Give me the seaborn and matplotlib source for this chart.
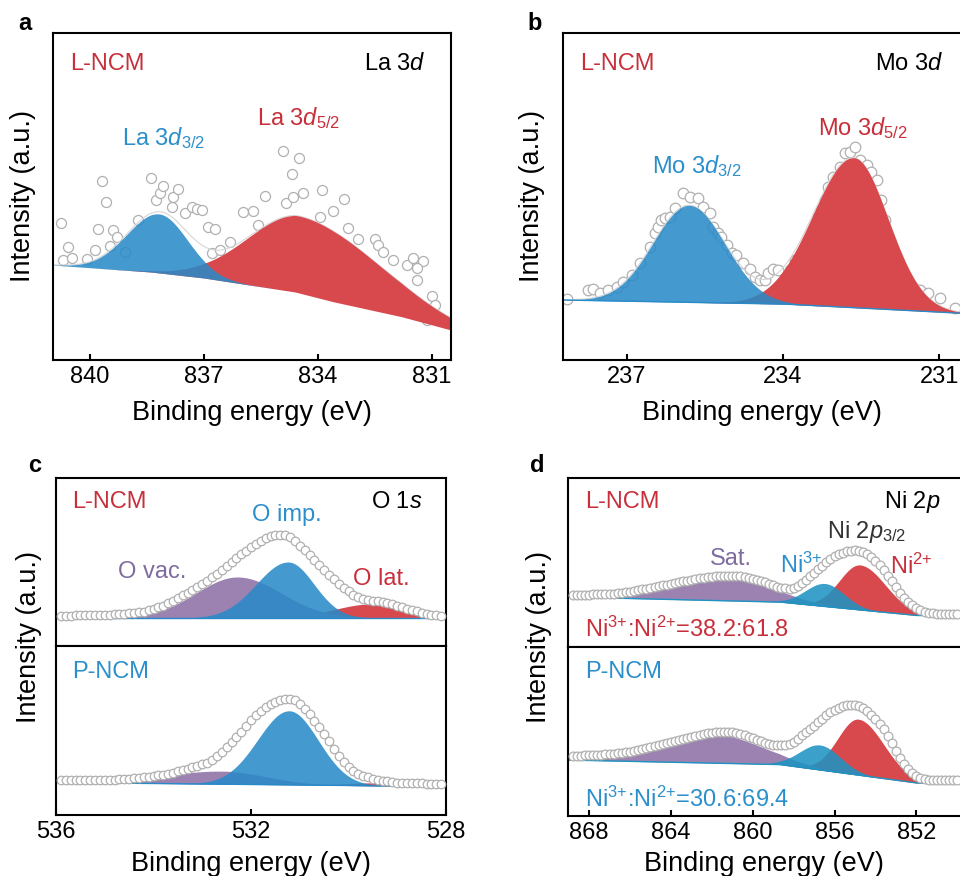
import numpy as np
import matplotlib
matplotlib.use("Agg")
import matplotlib.pyplot as plt
import seaborn as sns

# ---------------- data ----------------
# Panel a : La 3d (L-NCM)
A_DATA_E = [840.77, 840.57, 840.70, 840.48, 840.07, 839.87, 839.78, 839.67, 839.58, 839.47,
            839.39, 839.28, 839.08, 838.73, 838.38, 838.25, 838.16, 838.07, 837.85, 837.81,
            837.68, 837.50, 837.32, 837.19, 837.06, 836.89, 836.71, 836.80, 836.58, 836.32,
            835.97, 835.70, 835.57, 835.39, 834.91, 834.69, 834.50, 834.84, 834.65, 834.40,
            833.90, 833.95, 833.60, 833.31, 833.20, 832.94, 832.50, 832.41, 832.28, 832.02,
            831.67, 831.49, 831.23, 831.40, 831.40, 831.01, 830.92, 834.37, 833.60, 833.07,
            832.82, 831.93, 831.75, 831.14]
A_DATA_I = [137.3, 113.3, 100.0, 101.7, 100.7, 110.0, 130.7, 179.0, 158.3, 114.0,
            130.0, 122.7, 108.3, 140.0, 181.7, 160.0, 166.7, 174.0, 153.3, 163.3,
            170.7, 146.7, 153.3, 150.7, 150.0, 133.3, 130.7, 106.7, 110.0, 118.3,
            148.3, 149.3, 135.0, 164.0, 209.3, 186.0, 201.7, 157.3, 163.3, 166.7,
            170.0, 143.3, 149.3, 160.7, 131.7, 120.7, 120.7, 115.0, 108.3, 100.0,
            95.0, 101.7, 99.3, 91.7, 80.0, 64.0, 55.0, 111.7, 106.7, 83.3,
            80.0, 63.0, 58.0, 40.0]
A_PEAK_NAMES = ["La 3d5/2", "La 3d3/2"]
A_PEAK_CENTER = [834.45, 838.18]
A_PEAK_HEIGHT = [77.0, 59.0]
A_PEAK_SIG_HI = [1.40, 0.85]
A_PEAK_SIG_LO = [2.05, 0.75]
A_BG_E = [841.0, 838.4, 837.0, 834.6, 833.6, 831.8, 830.5]
A_BG_I = [95.0, 88.0, 82.0, 68.0, 58.3, 43.3, 30.0]

# Panel b : Mo 3d (L-NCM)
B_DATA_E = [238.14, 237.74, 237.64, 237.51, 237.35, 237.19, 237.07, 236.90, 236.74, 236.55,
            236.46, 236.39, 236.33, 236.26, 236.17, 236.07, 235.91, 235.79, 235.63, 235.53,
            235.40, 235.34, 235.24, 235.18, 235.08, 234.98, 234.89, 234.76, 234.63, 234.54,
            234.44, 234.35, 234.28, 234.19, 234.09, 234.03, 233.93, 233.87, 233.77, 233.67,
            233.58, 233.48, 233.39, 233.32, 233.26, 233.19, 233.13, 233.03, 232.91, 232.81,
            232.71, 232.62, 232.52, 232.39, 232.30, 232.20, 232.11, 232.04, 231.95, 231.85,
            231.75, 231.63, 231.50, 231.37, 231.21, 230.99, 230.70]
B_DATA_I = [60.7, 70.0, 70.7, 66.7, 70.0, 73.3, 78.3, 85.0, 96.7, 113.3,
            126.7, 133.3, 140.0, 141.7, 143.3, 151.7, 166.7, 163.3, 161.7, 153.3,
            146.7, 133.3, 126.7, 123.3, 115.0, 106.7, 105.0, 96.7, 90.7, 83.3,
            80.0, 80.0, 86.7, 90.7, 90.0, 75.0, 83.3, 90.0, 100.0, 101.7,
            103.3, 108.3, 120.0, 143.3, 150.0, 160.0, 173.3, 183.3, 193.3, 206.7,
            208.3, 213.3, 200.0, 195.0, 188.3, 180.0, 160.0, 140.0, 120.0, 106.7,
            93.3, 80.0, 73.3, 70.0, 66.7, 61.7, 51.7]
B_PEAK_NAMES = ["Mo 3d5/2", "Mo 3d3/2"]
B_PEAK_CENTER = [232.64, 235.80]
B_PEAK_HEIGHT = [150.0, 97.0]
B_PEAK_SIG_HI = [0.78, 0.69]
B_PEAK_SIG_LO = [0.66, 0.69]
B_BG_E = [238.22, 234.0, 230.56]
B_BG_I = [60.0, 56.0, 46.7]

# Panel c : O 1s, L-NCM (top) and P-NCM (bottom); energy grid 535.9 -> 528.1 step 0.1
C_GRID = (535.9, 528.1)
C_TOP_I = [30.3, 30.4, 30.5, 30.6, 30.7, 30.8, 30.9, 31.0, 31.0, 31.2,
           31.4, 31.7, 32.0, 32.3, 32.6, 32.8, 33.6, 34.5, 35.6, 37.0,
           38.6, 40.5, 42.6, 45.0, 47.8, 50.6, 53.5, 56.4, 59.3, 62.3,
           65.5, 68.8, 72.3, 76.0, 79.8, 83.7, 87.7, 91.6, 95.4, 99.0,
           102.3, 105.3, 107.8, 109.6, 110.8, 111.2, 110.6, 108.8, 104.8, 100.4,
           95.6, 90.7, 85.7, 80.8, 75.9, 71.2, 66.6, 62.3, 58.3, 54.6,
           51.5, 49.0, 47.3, 46.2, 45.4, 44.6, 43.8, 42.9, 41.8, 40.5,
           39.0, 37.5, 36.0, 34.6, 33.3, 32.3, 31.5, 30.9, 30.4]
C_BOT_I = [35.0, 35.0, 35.0, 35.0, 35.0, 35.0, 35.0, 35.0, 35.0, 35.1,
           35.3, 35.5, 35.8, 36.1, 36.4, 36.8, 37.2, 37.7, 38.3, 38.9,
           39.6, 40.4, 41.4, 42.5, 43.8, 45.2, 46.5, 47.8, 49.1, 50.6,
           52.5, 55.3, 59.5, 63.5, 68.0, 72.8, 78.0, 83.5, 89.2, 95.0,
           99.8, 104.2, 107.8, 110.8, 113.2, 114.8, 115.6, 115.7, 114.6, 111.0,
           106.3, 100.6, 94.3, 88.0, 80.8, 73.6, 66.0, 59.5, 53.2, 47.8,
           44.0, 41.2, 39.2, 37.6, 36.3, 35.2, 34.3, 33.6, 33.0, 32.5,
           32.1, 31.9, 31.8, 31.7, 31.6, 31.5, 31.3, 31.0, 30.8]
C_PEAK_NAMES = ["O lat.", "O vac.", "O imp."]
C_TOP_CENTER = [529.54, 532.28, 531.24]
C_TOP_HEIGHT = [14.0, 41.0, 56.0]
C_TOP_SIG_HI = [0.75, 0.85, 0.65]
C_TOP_SIG_LO = [0.64, 0.90, 0.53]
C_TOP_BG_E = [536.0, 528.0]
C_TOP_BG_I = [28.0, 28.0]
C_BOT_CENTER = [529.40, 532.60, 531.22]
C_BOT_HEIGHT = [3.0, 13.0, 74.0]
C_BOT_SIG_HI = [0.60, 1.20, 0.64]
C_BOT_SIG_LO = [0.60, 0.90, 0.60]
C_BOT_BG_E = [536.0, 531.2, 528.0]
C_BOT_BG_I = [32.5, 30.2, 28.3]

# Panel d : Ni 2p, L-NCM (top) and P-NCM (bottom); energy grid 868.8 -> 850.0 step 0.2
D_GRID = (868.8, 850.0)
D_TOP_I = [51.7, 51.9, 52.1, 52.3, 52.5, 52.7, 52.9, 53.0, 53.2, 53.3,
           53.5, 53.9, 54.4, 54.9, 55.5, 56.1, 56.8, 57.6, 58.4, 59.2,
           60.0, 60.8, 61.6, 62.4, 63.2, 64.0, 64.9, 65.7, 66.5, 67.3,
           68.0, 68.7, 69.3, 69.9, 70.5, 70.9, 71.2, 71.4, 71.5, 71.4,
           71.2, 70.8, 70.2, 69.4, 68.5, 67.3, 66.0, 64.6, 63.1, 61.7,
           60.4, 59.4, 58.7, 58.5, 59.2, 61.5, 64.3, 67.5, 70.9, 74.3,
           77.8, 81.3, 84.8, 88.0, 90.6, 92.8, 94.5, 95.7, 96.5, 96.8,
           96.5, 95.3, 93.1, 90.1, 86.4, 81.9, 76.9, 71.5, 65.6, 59.8,
           54.3, 49.5, 45.3, 41.8, 39.0, 36.8, 35.3, 34.3, 33.6, 33.3,
           33.2, 33.2, 33.2, 33.2, 33.2]
D_BOT_I = [60.0, 60.2, 60.4, 60.6, 60.8, 61.0, 61.2, 61.4, 61.6, 61.8,
           62.1, 62.6, 63.2, 63.8, 64.5, 65.2, 66.0, 66.8, 67.7, 68.6,
           69.6, 70.6, 71.6, 72.6, 73.6, 74.7, 75.8, 76.9, 77.9, 78.9,
           79.9, 80.9, 81.8, 82.6, 83.3, 83.8, 84.1, 84.3, 84.2, 83.8,
           83.1, 82.0, 80.7, 79.2, 77.6, 76.0, 74.6, 73.3, 72.2, 71.5,
           71.0, 70.9, 71.2, 72.2, 74.3, 77.3, 80.7, 84.2, 87.4, 90.2,
           93.6, 97.2, 100.8, 103.8, 106.3, 108.3, 109.8, 110.7, 111.0, 110.8,
           110.0, 108.0, 105.1, 101.4, 97.2, 92.3, 86.6, 80.0, 72.7, 65.0,
           58.0, 51.8, 46.8, 42.8, 39.6, 37.8, 36.8, 36.2, 36.0, 36.0,
           36.0, 36.0, 36.0, 36.0, 36.0]
D_PEAK_NAMES = ["Ni2+", "Sat.", "Ni3+"]
D_TOP_CENTER = [854.76, 861.44, 856.47]
D_TOP_HEIGHT = [45.0, 23.0, 23.0]
D_TOP_SIG_HI = [1.00, 2.80, 0.95]
D_TOP_SIG_LO = [1.25, 2.30, 0.95]
D_TOP_BG_E = [869.1, 858.7, 852.0, 849.7]
D_TOP_BG_I = [50.0, 45.0, 31.5, 31.5]
D_BOT_CENTER = [854.84, 861.93, 856.71]
D_BOT_HEIGHT = [56.0, 29.0, 25.0]
D_BOT_SIG_HI = [1.00, 2.80, 1.00]
D_BOT_SIG_LO = [1.25, 2.30, 1.00]
D_BOT_BG_E = [869.1, 858.7, 852.0, 849.7]
D_BOT_BG_I = [56.0, 51.5, 33.0, 32.5]

# ---------------- style ----------------
RED = "#D8454A"
BLUE = "#288AC8"
BLUE_D = "#1E93C2"
PURPLE = "#9A80B0"
RED_T = "#C7303B"
BLUE_T = "#2B8FCB"
PURPLE_T = "#7E6C9F"
CIRC = "#b0b0b0"

sns.set_theme(style="white")
plt.rcParams["font.family"] = ["Liberation Sans", "DejaVu Sans"]
plt.rcParams["mathtext.fontset"] = "custom"
plt.rcParams["mathtext.rm"] = "Liberation Sans"
plt.rcParams["mathtext.it"] = "Liberation Sans:italic"
plt.rcParams["mathtext.bf"] = "Liberation Sans:bold"

W, H = 960, 876
fig = plt.figure(figsize=(W / 100, H / 100), dpi=100)


def box(l, t, r, b):
    return [l / W, 1 - b / H, (r - l) / W, (b - t) / H]


def peak(x, c, a, s_hi, s_lo):
    s = np.where(x >= c, s_hi, s_lo)
    return a * np.exp(-(x - c) ** 2 / (2 * s ** 2))


def style_ax(ax, xlim, ylim, ticks=None):
    ax.set_xlim(*xlim)
    ax.set_ylim(*ylim)
    ax.set_yticks([])
    for sp in ax.spines.values():
        sp.set_linewidth(1.5)
        sp.set_color("black")
        sp.set_visible(True)
    if ticks is None:
        ax.set_xticks([])
    else:
        ax.set_xticks(ticks)
        ax.set_xticklabels([str(t) for t in ticks])
        ax.tick_params(axis="x", direction="in", length=4, width=1.5,
                       labelsize=17, pad=4, bottom=True, colors="black")
    ax.set_xlabel("")
    ax.set_ylabel("")
    ax.set_facecolor("white")


def draw_fits(ax, xlim, bg_e, bg_i, centers, heights, s_hi, s_lo, colors, alphas, z0=2):
    xg = np.linspace(xlim[0], xlim[1], 800)
    if bg_e[0] > bg_e[-1]:
        base = np.interp(xg, bg_e[::-1], bg_i[::-1])
    else:
        base = np.interp(xg, bg_e, bg_i)
    total = base.copy()
    for k, (c, a, sh, sl, col, al) in enumerate(zip(centers, heights, s_hi, s_lo, colors, alphas)):
        p = peak(xg, c, a, sh, sl)
        total += p
        ax.fill_between(xg, base, base + p, color=col, alpha=al, lw=0, zorder=z0 + 0.1 * k)
    return xg, base, total


def circles(ax, x, y, s, z):
    sns.scatterplot(x=x, y=y, ax=ax, s=s, marker="o", facecolor="white",
                    edgecolor=CIRC, linewidth=0.9, zorder=z, legend=False)


def ftext(px, py, s, color="black", size=17, ha="left", va="baseline", **kw):
    fig.text(px / W, 1 - py / H, s, color=color, fontsize=size, ha=ha, va=va, **kw)


# ---------------- panel a ----------------
axa = fig.add_axes(box(53, 33, 451, 360))
xl = (840.97, 830.5)
circles(axa, A_DATA_E, A_DATA_I, 52, 1)
xg, base, tot = draw_fits(axa, xl, A_BG_E, A_BG_I, A_PEAK_CENTER, A_PEAK_HEIGHT,
                          A_PEAK_SIG_HI, A_PEAK_SIG_LO, [RED, BLUE], [0.98, 0.87])
sns.lineplot(x=xg, y=tot, ax=axa, color="#d6d6d6", lw=0.8, zorder=1.5)
style_ax(axa, xl, (0, 327), [840, 837, 834, 831])

# ---------------- panel b ----------------
axb = fig.add_axes(box(563, 33, 962, 360))
xl = (238.22, 230.56)
circles(axb, B_DATA_E, B_DATA_I, 58, 1)
xg, base, tot = draw_fits(axb, xl, B_BG_E, B_BG_I, B_PEAK_CENTER, B_PEAK_HEIGHT,
                          B_PEAK_SIG_HI, B_PEAK_SIG_LO, [RED, BLUE], [0.98, 0.87])
sns.lineplot(x=xg, y=tot, ax=axb, color="#d6d6d6", lw=0.8, zorder=1.5)
axb.plot(xg, base, color=BLUE, lw=1.0, zorder=2.5)
style_ax(axb, xl, (0, 327), [237, 234, 231])

# ---------------- panel c ----------------
xl = (536.0, 528.0)
c_e = np.linspace(C_GRID[0], C_GRID[1], len(C_TOP_I))
axc1 = fig.add_axes(box(56, 478, 446, 646))
draw_fits(axc1, xl, C_TOP_BG_E, C_TOP_BG_I, C_TOP_CENTER, C_TOP_HEIGHT,
          C_TOP_SIG_HI, C_TOP_SIG_LO, [RED, PURPLE, BLUE], [0.98, 0.98, 0.87])
axc1.plot(xl, C_TOP_BG_I, color=BLUE, lw=1.0, zorder=2.5)
circles(axc1, c_e, C_TOP_I, 38, 3)
style_ax(axc1, xl, (0, 168))

axc2 = fig.add_axes(box(56, 646, 446, 815))
c_e2 = np.linspace(C_GRID[0], C_GRID[1], len(C_BOT_I))
xg, base, tot = draw_fits(axc2, xl, C_BOT_BG_E, C_BOT_BG_I, C_BOT_CENTER, C_BOT_HEIGHT,
                          C_BOT_SIG_HI, C_BOT_SIG_LO, [RED, PURPLE, BLUE], [0.98, 0.98, 0.87])
axc2.plot(xg, base, color=BLUE, lw=1.0, zorder=2.5)
circles(axc2, c_e2, C_BOT_I, 38, 3)
style_ax(axc2, xl, (0, 169), [536, 532, 528])

# ---------------- panel d ----------------
xl = (869.03, 849.77)
d_e = np.linspace(D_GRID[0], D_GRID[1], len(D_TOP_I))
axd1 = fig.add_axes(box(568, 478, 962, 647))
xg, base, tot = draw_fits(axd1, xl, D_TOP_BG_E, D_TOP_BG_I, D_TOP_CENTER, D_TOP_HEIGHT,
                          D_TOP_SIG_HI, D_TOP_SIG_LO, [RED, PURPLE, BLUE_D], [0.98, 0.98, 0.87])
axd1.plot(xg, base, color=BLUE_D, lw=1.0, zorder=2.5)
circles(axd1, d_e, D_TOP_I, 40, 3)
style_ax(axd1, xl, (0, 169))

axd2 = fig.add_axes(box(568, 647, 962, 816))
d_e2 = np.linspace(D_GRID[0], D_GRID[1], len(D_BOT_I))
xg, base, tot = draw_fits(axd2, xl, D_BOT_BG_E, D_BOT_BG_I, D_BOT_CENTER, D_BOT_HEIGHT,
                          D_BOT_SIG_HI, D_BOT_SIG_LO, [RED, PURPLE, BLUE_D], [0.98, 0.98, 0.87])
axd2.plot(xg, base, color=BLUE_D, lw=1.0, zorder=2.5)
circles(axd2, d_e2, D_BOT_I, 40, 3)
style_ax(axd2, xl, (0, 169), [868, 864, 860, 856, 852])

# ---------------- texts ----------------
for px, py, s in [(18, 30, "a"), (527, 30, "b"), (28, 472, "c"), (530, 472, "d")]:
    ftext(px, py, s, size=17, weight="bold")

for px, py in [(23, 196), (532, 196), (29, 637), (539, 637)]:
    ftext(px, py, "Intensity (a.u.)", size=19.5, ha="center", va="center", rotation=90)
for px, py in [(252, 420), (762, 420), (251, 871), (764, 871)]:
    ftext(px, py, "Binding energy (eV)", size=19.5, ha="center")

SUP3 = "Ni$^{3{+}}$"
SUP2 = "Ni$^{2{+}}$"

# panel a
ftext(70, 70, "L-NCM", RED_T)
ftext(426, 70, "La 3$d$", ha="right")
ftext(122, 145, "La 3$d_{3/2}$", BLUE_T)
ftext(257, 125, "La 3$d_{5/2}$", RED_T)
# panel b
ftext(580, 70, "L-NCM", RED_T)
ftext(943, 70, "Mo 3$d$", ha="right")
ftext(652, 173, "Mo 3$d_{3/2}$", BLUE_T)
ftext(818, 135, "Mo 3$d_{5/2}$", RED_T)
# panel c
ftext(72, 508, "L-NCM", RED_T)
ftext(422, 508, "O 1$s$", ha="right")
ftext(252, 521, "O imp.", BLUE_T)
ftext(118, 578, "O vac.", PURPLE_T)
ftext(353, 585, "O lat.", RED_T)
ftext(72, 678, "P-NCM", BLUE_T)
# panel d
ftext(585, 508, "L-NCM", RED_T)
ftext(940, 508, "Ni 2$p$", ha="right")
ftext(827, 538, "Ni 2$p_{3/2}$", "#333333")
ftext(710, 565, "Sat.", PURPLE_T)
ftext(780, 573, SUP3, BLUE_T)
ftext(890, 574, SUP2, RED_T)
ftext(585, 637, SUP3 + ":" + SUP2 + "=38.2:61.8", RED_T)
ftext(585, 678, "P-NCM", BLUE_T)
ftext(585, 807, SUP3 + ":" + SUP2 + "=30.6:69.4", BLUE_T)

fig.savefig("out.png", dpi=100, facecolor="white")
